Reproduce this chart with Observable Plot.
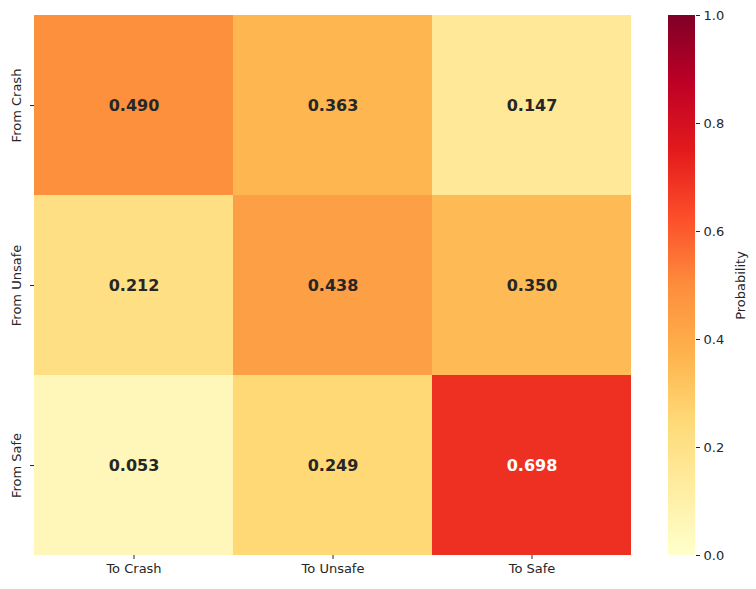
<!DOCTYPE html>
<html>
<head>
<meta charset="utf-8">
<script src="https://cdn.jsdelivr.net/npm/d3@7"></script>
<script src="https://cdn.jsdelivr.net/npm/@observablehq/plot@0.6"></script>
<style>
  html, body { margin: 0; padding: 0; background: #fff; }
  #chart { position: relative; width: 756px; height: 589px; font-family: "DejaVu Sans", sans-serif; }
  #chart svg { position: absolute; left: 0; top: 0; background: transparent; }
</style>
</head>
<body>
<div id="chart"></div>
<script>
// Transition probabilities between driving states
const fromStates = ["From Crash", "From Unsafe", "From Safe"];
const toStates = ["To Crash", "To Unsafe", "To Safe"];
const fromCrash = [0.490, 0.363, 0.147];
const fromUnsafe = [0.212, 0.438, 0.350];
const fromSafe = [0.053, 0.249, 0.698];
const colorbarTicks = [0, 0.2, 0.4, 0.6, 0.8, 1.0];

const matrix = [fromCrash, fromUnsafe, fromSafe];
const cells = fromStates.flatMap((from, i) =>
  toStates.map((to, j) => ({from, to, value: matrix[i][j]}))
);

// YlOrRd, linearly interpolated between the ColorBrewer stops
const ylOrRd = ["#ffffcc", "#ffeda0", "#fed976", "#feb24c", "#fd8d3c", "#fc4e2a", "#e31a1c", "#bd0026", "#800026"];
const colorOptions = {
  type: "linear",
  domain: ylOrRd.map((_, i) => i / (ylOrRd.length - 1)),
  range: ylOrRd,
  interpolate: "rgb"
};
const colorScale = Plot.scale({color: colorOptions});

function luminance(c) {
  const rgb = d3.rgb(c);
  const lin = [rgb.r, rgb.g, rgb.b].map(v => {
    v /= 255;
    return v <= 0.03928 ? v / 12.92 : Math.pow((v + 0.055) / 1.055, 2.4);
  });
  return 0.2126 * lin[0] + 0.7152 * lin[1] + 0.0722 * lin[2];
}
const textColor = d => luminance(colorScale.apply(d.value)) > 0.408 ? "#262626" : "#ffffff";

const fontSize = 13;

const heat = Plot.plot({
  width: 756,
  height: 589,
  marginLeft: 34,
  marginRight: 125,
  marginTop: 15,
  marginBottom: 34,
  style: {fontFamily: "DejaVu Sans, sans-serif", fontSize: fontSize + "px", color: "#262626", background: "transparent"},
  x: {domain: toStates, padding: 0, label: null},
  y: {domain: fromStates, padding: 0, label: null},
  color: colorOptions,
  marks: [
    Plot.cell(cells, {x: "to", y: "from", fill: "value", inset: 0}),
    Plot.text(cells, {
      x: "to", y: "from",
      text: d => d.value.toFixed(3),
      fill: textColor,
      fontWeight: "bold",
      fontSize: 16
    }),
    Plot.axisX({tickSize: 4, tickPadding: 4, fontSize, label: null, stroke: "#262626"}),
    Plot.axisY({tickSize: 4, tickFormat: () => "", label: null, stroke: "#262626"}),
    Plot.text(fromStates, {
      y: d => d,
      text: d => d,
      frameAnchor: "left",
      dx: -18,
      rotate: -90,
      textAnchor: "middle",
      lineAnchor: "middle",
      fontSize,
      fill: "#262626"
    })
  ]
});

// Colour bar: one thin slice per pixel across the 0..1 probability range
const steps = 540;
const slices = d3.range(steps).map(i => ({y1: i / steps, y2: (i + 1) / steps}));

const bar = Plot.plot({
  width: 756,
  height: 589,
  marginLeft: 668,
  marginRight: 61,
  marginTop: 15,
  marginBottom: 34,
  style: {fontFamily: "DejaVu Sans, sans-serif", fontSize: fontSize + "px", color: "#262626", background: "transparent"},
  x: {domain: [0, 1], axis: null},
  y: {domain: [0, 1], label: null},
  color: colorOptions,
  marks: [
    Plot.rect(slices, {
      x1: 0, x2: 1, y1: "y1", y2: "y2",
      fill: d => (d.y1 + d.y2) / 2,
      shapeRendering: "crispEdges"
    }),
    Plot.axisY({anchor: "right", ticks: colorbarTicks, tickFormat: d3.format(".1f"), tickSize: 4, tickPadding: 4, label: null, stroke: "#262626"}),
    Plot.text(["Probability"], {
      frameAnchor: "right",
      dx: 45,
      rotate: -90,
      textAnchor: "middle",
      lineAnchor: "middle",
      fontSize,
      fill: "#262626"
    })
  ]
});

const chart = document.getElementById("chart");
chart.appendChild(heat);
chart.appendChild(bar);
</script>
</body>
</html>
